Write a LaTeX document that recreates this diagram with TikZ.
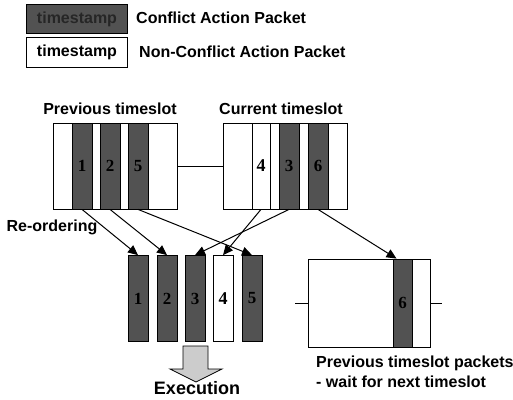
\documentclass[tikz,border=0pt]{standalone}
\usepackage{fontspec}
\setmainfont{Liberation Sans}
\newfontfamily\numfont{Liberation Serif}
\usetikzlibrary{arrows.meta,calc}
\begin{document}
\begin{tikzpicture}[x=1pt,y=-1pt,
  lbl/.style={font=\fontsize{16}{17}\selectfont\bfseries, inner sep=0pt},
  slotbox/.style={draw, line width=1pt, minimum width=124pt, minimum height=86pt, inner sep=0pt},
  darkpk/.style={draw, line width=0.8pt, fill=black!68, minimum width=20pt, minimum height=86pt, inner sep=0pt, font=\numfont\fontsize{17}{18}\selectfont\bfseries, text=black},
  whitepk/.style={draw, line width=0.8pt, fill=white, minimum width=18pt, minimum height=86pt, inner sep=0pt, font=\numfont\fontsize{18}{18}\selectfont\bfseries},
  conn/.style={line width=1pt},
  arr/.style={line width=1pt, -{Triangle[length=10pt,width=9pt]}}
]
\useasboundingbox (0,0) rectangle (513,399);
% legend
\node[draw, line width=0.8pt, fill=black!68, minimum width=101pt, minimum height=29pt, inner sep=0pt, lbl, text=black!85] (legdark) at (77,19) {timestamp};
\node[lbl, anchor=west] (legdarktxt) at (136,18) {Conflict Action Packet};
\node[draw, line width=1pt, fill=white, minimum width=101pt, minimum height=30pt, inner sep=0pt, lbl] (legwhite) at (77,52) {timestamp};
\node[lbl, anchor=west] (legwhitetxt) at (139,52) {Non-Conflict Action Packet};
% previous timeslot
\node[lbl] (prevlbl) at (110,109) {Previous timeslot};
\node[slotbox] (prev) at (115,166) {};
\node[darkpk] (p1) at (82,166) {1};
\node[darkpk] (p2) at (110,166) {2};
\node[darkpk] (p5) at (138,166) {5};
% current timeslot
\node[lbl] (curlbl) at (281,109) {Current timeslot};
\node[slotbox] (cur) at (285,166) {};
\node[whitepk] (c4) at (261,166) {4};
\node[darkpk] (c3) at (289,166) {3};
\node[darkpk] (c6) at (318,166) {6};
\draw[conn] (prev.east) -- (cur.west);
% reordering label
\node[lbl] (reord) at (52,227) {Re-ordering};
% bottom packets
\begin{scope}[every node/.append style={minimum height=89pt}]
\node[darkpk] (b1) at (138,298.5) {1};
\node[darkpk] (b2) at (167,298.5) {2};
\node[darkpk] (b3) at (195,298.5) {3};
\node[whitepk, minimum width=20pt] (b4) at (223,298.5) {4};
\node[darkpk] (b5) at (252,298.5) {5};
\end{scope}
% waiting timeslot
\node[draw, line width=1pt, minimum width=122pt, minimum height=88pt, inner sep=0pt] (wait) at (369,303) {};
\node[darkpk, minimum width=19pt, minimum height=88pt] (w6) at (402.5,303) {6};
\coordinate (wl) at (295,303);
\coordinate (wr) at (442,303);
\draw[conn] (wl) -- (wait.west);
\draw[conn] (wait.east) -- (wr);
\node[lbl, anchor=west] (waittxt1) at (316,363) {Previous timeslot packets};
\node[lbl, anchor=west] (waittxt2) at (316,382) {- wait for next timeslot};
% arrows
\draw[arr] (p1.south) -- (b1.north);
\draw[arr] (p2.south) -- (b2.north);
\draw[arr] (p5.south) -- (b5.north);
\draw[arr] (c4.south) -- (b4.north);
\draw[arr] (c3.south) -- (b3.north);
\draw[arr] (c6.south) -- ($(w6.north)+(-6,0)$);
% execution arrow
\coordinate (exectip) at (196,382);
\draw[line width=0.8pt, fill=black!20] (183,346) -- (208,346) -- (208,369) -- (222,369) -- (exectip) -- (170,369) -- (183,369) -- cycle;
\node[lbl, font=\fontsize{18}{20}\selectfont\bfseries] (exec) at (197,388) {Execution};
\end{tikzpicture}
\end{document}
